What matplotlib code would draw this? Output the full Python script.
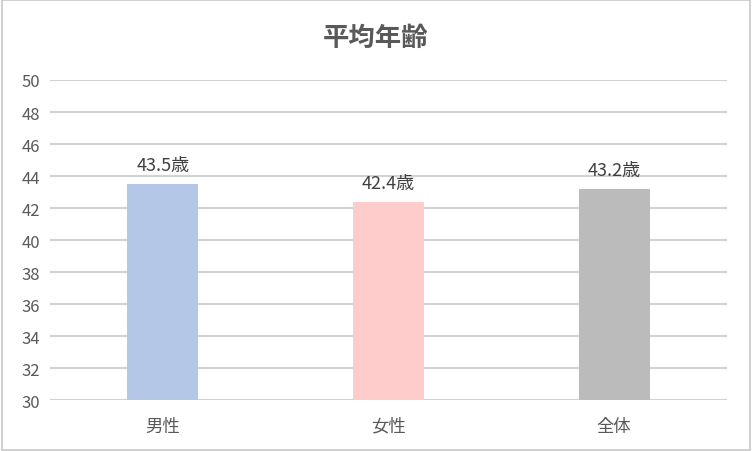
import matplotlib
matplotlib.use("Agg")
import matplotlib.pyplot as plt
from matplotlib.patches import Rectangle

plt.rcParams['font.family'] = ['Noto Sans CJK JP', 'DejaVu Sans']

categories = ['男性', '女性', '全体']
ages = [43.5, 42.4, 43.2]
bar_colors = ['#B4C7E7', '#FFCCCC', '#BBBBBB']
yticks = list(range(30, 51, 2))

fig = plt.figure(figsize=(7.52, 4.52), dpi=100)
ax = fig.add_axes([0.0665, 0.1128, 0.9003, 0.708])

x = range(len(categories))
bars = ax.bar(x, ages, width=0.315, color=bar_colors, zorder=3)
ax.set_xlim(-0.5, len(categories) - 0.5)
ax.set_ylim(30, 50)
ax.set_yticks(yticks)
ax.set_xticks(list(x))
ax.set_xticklabels(categories)

ax.grid(axis='y', color='#D3D3D3', linewidth=1.6, zorder=0)
for s in ax.spines.values():
    s.set_visible(False)
ax.tick_params(axis='both', length=0, colors='#595959', labelsize=12)
ax.tick_params(axis='x', pad=12, labelsize=12.5)
ax.tick_params(axis='y', pad=7)

for b, v in zip(bars, ages):
    ax.annotate(f'{v}歳', (b.get_x() + b.get_width() / 2, v),
                xytext=(0, 7), textcoords='offset points',
                ha='center', va='bottom', fontsize=13, color='#404040')

fig.text(0.5, 0.915, '平均年齢', ha='center', va='center',
         fontsize=19, fontweight='bold', color='#595959')

fig.patches.append(Rectangle((0.002, 0.002), 0.996, 0.996, transform=fig.transFigure,
                             fill=False, edgecolor='#C8C8C8', linewidth=1.2))

fig.savefig('out.png', dpi=100)
